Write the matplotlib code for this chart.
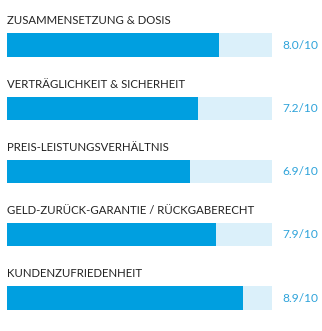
import matplotlib
matplotlib.use("Agg")
import matplotlib.pyplot as plt
import matplotlib.transforms as mtransforms

# Data
categories = [
    "ZUSAMMENSETZUNG & DOSIS",
    "VERTRÄGLICHKEIT & SICHERHEIT",
    "PREIS-LEISTUNGSVERHÄLTNIS",
    "GELD-ZURÜCK-GARANTIE / RÜCKGABERECHT",
    "KUNDENZUFRIEDENHEIT",
]
scores = [8.0, 7.2, 6.9, 7.9, 8.9]
max_score = 10

bar_color = "#009fe0"
track_color = "#dbf0fa"
value_color = "#2ea3da"

plt.rcParams["font.family"] = ["Lato", "DejaVu Sans"]

fig = plt.figure(figsize=(3.22, 3.31), dpi=100)
ax = fig.add_axes([7 / 322, 0, 265 / 322, 1])

rows = list(range(len(categories)))
bar_h = 0.37
ax.barh(rows, [max_score] * len(rows), height=bar_h, color=track_color)
ax.barh(rows, scores, height=bar_h, color=bar_color)

ax.set_xlim(0, max_score)
ax.set_ylim(4 + 33 / 63.25, -45 / 63.25)
ax.axis("off")

trans = mtransforms.blended_transform_factory(ax.transAxes, ax.transData)
for i, (cat, s) in enumerate(zip(categories, scores)):
    ax.annotate(cat, xy=(0, i - bar_h / 2), xycoords=trans,
                xytext=(0, 5), textcoords="offset points",
                ha="left", va="bottom", fontsize=8.2, color="#222222")
    ax.text(1 + 10 / 265, i, f"{s:.1f}/{max_score}", transform=trans,
            ha="left", va="center", fontsize=8.6, color=value_color)

fig.savefig("out.png", dpi=100)
